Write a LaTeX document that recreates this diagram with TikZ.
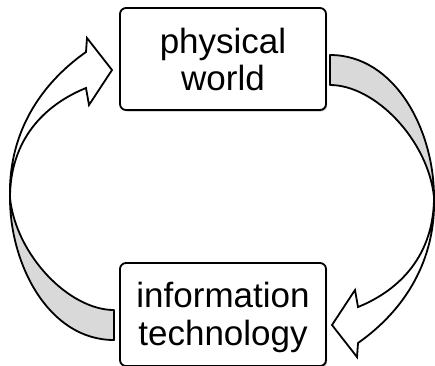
\documentclass[tikz,border=0pt]{standalone}
\usepackage{fontspec}
\setmainfont{Liberation Sans}
\usetikzlibrary{shadows}
\definecolor{ribbongray}{HTML}{D9D9D9}
\newcommand\drawribbon{%
  \draw[backside] (330,55) .. controls (395,55) and (434,130) .. (434,197)
        .. controls (428,140) and (375,85) .. (330,85) -- cycle;
  \draw[frontside] (434,197) .. controls (434,255) and (400,290) .. (358,307)
        -- (355,290) -- (332,325) -- (357,357) -- (358,343)
        .. controls (405,310) and (436,260) .. (434,197) -- cycle;
}
\begin{document}
\begin{tikzpicture}[x=1pt,y=-1pt,
  boxstyle/.style={draw=black, line width=1.8pt, rounded corners=6pt, fill=white,
    minimum width=206pt, minimum height=102pt, inner sep=0pt,
    drop shadow={shadow xshift=1.2pt, shadow yshift=-1.5pt, fill=black!40, opacity=0.6}},
  txt/.style={font=\fontsize{35}{37.5}\selectfont, align=center, inner sep=0pt},
  backside/.style={draw=black, line width=1.8pt, fill=ribbongray, line join=round},
  frontside/.style={draw=black, line width=1.8pt, fill=white, line join=miter}
]
\useasboundingbox (0,0) rectangle (435,365);
\drawribbon
\begin{scope}[rotate around={180:(222,197.5)}]
\drawribbon
\end{scope}
\node[boxstyle] (pw) at (223,59) {};
\node[txt] (pwt) at (223,59.25) {physical\\world};
\node[boxstyle, minimum height=103pt] (it) at (223,314.5) {};
\node[txt] (itt) at (223,317.6) {information\\technology};
\end{tikzpicture}
\end{document}
